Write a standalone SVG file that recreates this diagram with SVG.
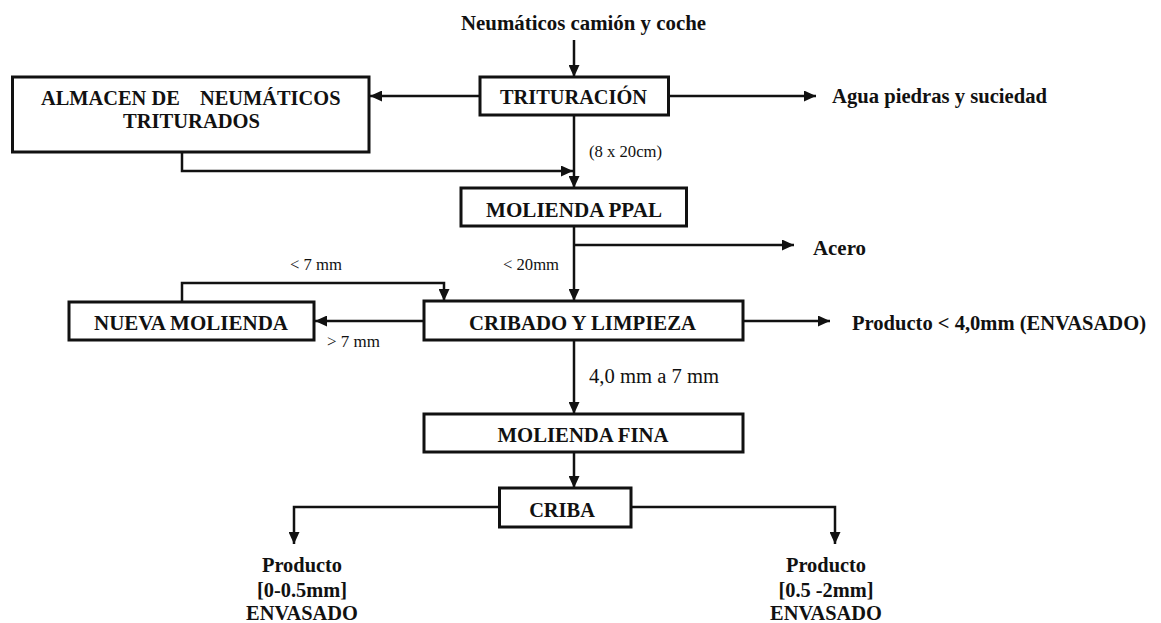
<svg xmlns="http://www.w3.org/2000/svg" width="1161" height="623" viewBox="0 0 1161 623">
<style>
.box{fill:#fff;stroke:#111;stroke-width:3}
.ln{fill:none;stroke:#111;stroke-width:2.5}
.b{font-family:"Liberation Serif","Times New Roman",serif;font-weight:bold;font-size:20.4px;fill:#111}
.r{font-family:"Liberation Serif","Times New Roman",serif;font-size:16.6px;fill:#111}
.m{text-anchor:middle}
</style>
<defs>
<marker id="ah" markerUnits="userSpaceOnUse" markerWidth="12" markerHeight="11" refX="12" refY="5.5" orient="auto">
<path d="M0,0 L12,5.5 L0,11 z" fill="#111"/>
</marker>
</defs>
<rect width="1161" height="623" fill="#fff"/>
<g id="connectors">
<line class="ln" x1="574" y1="40" x2="574" y2="77" marker-end="url(#ah)"/>
<line class="ln" x1="480" y1="96" x2="370" y2="96" marker-end="url(#ah)"/>
<line class="ln" x1="668" y1="96" x2="816" y2="96" marker-end="url(#ah)"/>
<polyline class="ln" points="182,152 182,171 573,171" marker-end="url(#ah)"/>
<line class="ln" x1="574" y1="115" x2="574" y2="188" marker-end="url(#ah)"/>
<line class="ln" x1="574" y1="226" x2="574" y2="301" marker-end="url(#ah)"/>
<line class="ln" x1="574" y1="245" x2="794" y2="245" marker-end="url(#ah)"/>
<polyline class="ln" points="182,302 182,283 444,283 444,301" marker-end="url(#ah)"/>
<line class="ln" x1="424" y1="321" x2="315" y2="321" marker-end="url(#ah)"/>
<line class="ln" x1="743" y1="321" x2="830" y2="321" marker-end="url(#ah)"/>
<line class="ln" x1="574" y1="340" x2="574" y2="414" marker-end="url(#ah)"/>
<line class="ln" x1="574" y1="452" x2="574" y2="488" marker-end="url(#ah)"/>
<polyline class="ln" points="500,507 294,507 294,544" marker-end="url(#ah)"/>
<polyline class="ln" points="631,507 835,507 835,544" marker-end="url(#ah)"/>
</g>
<g id="labels">
<text class="b m" x="583.5" y="30" textLength="245" lengthAdjust="spacingAndGlyphs">Neumáticos camión y coche</text>
<text class="b" x="832" y="103" textLength="215" lengthAdjust="spacingAndGlyphs">Agua piedras y suciedad</text>
<text class="r" x="589" y="157" textLength="73" lengthAdjust="spacingAndGlyphs">(8 x 20cm)</text>
<text class="b" x="813" y="255" textLength="53" lengthAdjust="spacingAndGlyphs">Acero</text>
<text class="r" x="503" y="270" textLength="56" lengthAdjust="spacingAndGlyphs">&lt; 20mm</text>
<text class="r" x="290" y="270" textLength="52" lengthAdjust="spacingAndGlyphs">&lt; 7 mm</text>
<text class="r" x="327" y="347" textLength="53" lengthAdjust="spacingAndGlyphs">&gt; 7 mm</text>
<text class="b" x="852" y="330" textLength="294" lengthAdjust="spacingAndGlyphs">Producto &lt; 4,0mm (ENVASADO)</text>
<text class="r" x="589" y="383" style="font-size:20px" textLength="130" lengthAdjust="spacingAndGlyphs">4,0 mm a 7 mm</text>
<text class="b m" x="302" y="572">Producto</text>
<text class="b m" x="302" y="597">[0-0.5mm]</text>
<text class="b m" x="302" y="620">ENVASADO</text>
<text class="b m" x="826" y="572">Producto</text>
<text class="b m" x="826" y="597">[0.5 -2mm]</text>
<text class="b m" x="826" y="620">ENVASADO</text>
</g>
<g id="trituracion">
<rect class="box" x="480" y="77" width="188.5" height="38"/>
<text class="b m" x="573.5" y="104" textLength="147" lengthAdjust="spacingAndGlyphs">TRITURACIÓN</text>
</g>
<g id="almacen">
<rect class="box" x="12.5" y="77" width="356.5" height="75"/>
<text class="b"><tspan x="41" y="105">ALMACEN DE</tspan><tspan x="200" y="105">NEUMÁTICOS</tspan></text>
<text class="b m" x="191.5" y="128" textLength="137" lengthAdjust="spacingAndGlyphs">TRITURADOS</text>
</g>
<g id="molienda-ppal">
<rect class="box" x="461" y="188" width="225.5" height="38"/>
<text class="b m" x="574" y="217" textLength="176" lengthAdjust="spacingAndGlyphs">MOLIENDA PPAL</text>
</g>
<g id="nueva-molienda">
<rect class="box" x="69" y="302" width="245" height="38"/>
<text class="b m" x="191" y="330" textLength="194" lengthAdjust="spacingAndGlyphs">NUEVA MOLIENDA</text>
</g>
<g id="cribado">
<rect class="box" x="424" y="301" width="319" height="39"/>
<text class="b m" x="582.5" y="330" textLength="227" lengthAdjust="spacingAndGlyphs">CRIBADO Y LIMPIEZA</text>
</g>
<g id="molienda-fina">
<rect class="box" x="424" y="414" width="319" height="38"/>
<text class="b m" x="583" y="442" textLength="171" lengthAdjust="spacingAndGlyphs">MOLIENDA FINA</text>
</g>
<g id="criba">
<rect class="box" x="499.5" y="488" width="131.5" height="39"/>
<text class="b m" x="562" y="517">CRIBA</text>
</g>
</svg>
